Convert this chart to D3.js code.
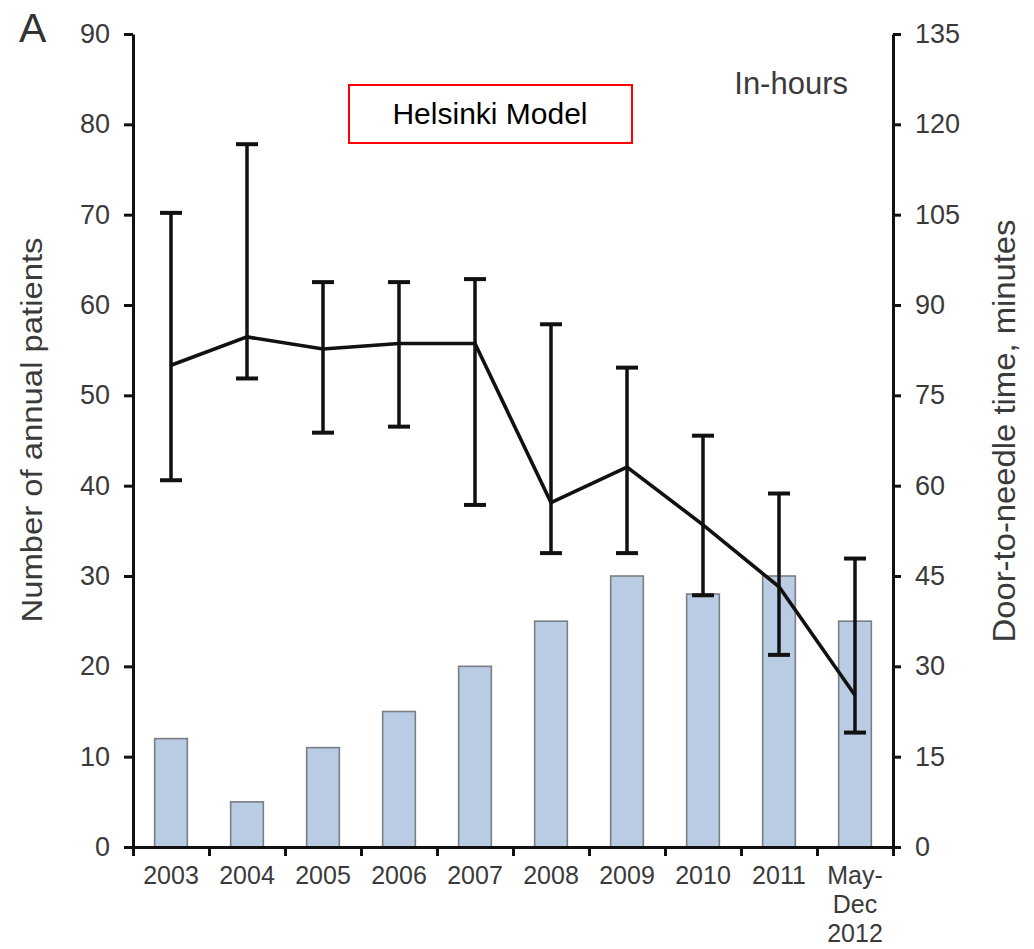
<!DOCTYPE html>
<html>
<head>
<meta charset="utf-8">
<script src="https://cdn.jsdelivr.net/npm/d3@7"></script>
<style>
  body { margin: 0; background: #fff; }
  svg text { font-family: "Liberation Sans", Arial, sans-serif; }
</style>
</head>
<body>
<div id="chart"></div>
<script>
// data
var years = ["2003", "2004", "2005", "2006", "2007", "2008", "2009", "2010", "2011", "May-Dec 2012"];
var patients = [12, 5, 11, 15, 20, 25, 30, 28, 30, 25];
// door-to-needle time, minutes (median and error bar ends)
var dtnMedian = [80, 84.7, 82.7, 83.6, 83.6, 57.2, 63.1, 53.5, 43.2, 25.2];
var dtnUpper = [105.3, 116.7, 93.8, 93.8, 94.3, 86.8, 79.6, 68.3, 58.7, 47.9];
var dtnLower = [60.9, 77.8, 68.8, 69.8, 56.8, 48.8, 48.8, 41.8, 31.9, 19.0];
var leftTicks = [0, 10, 20, 30, 40, 50, 60, 70, 80, 90];
var rightTicks = [0, 15, 30, 45, 60, 75, 90, 105, 120, 135];

var W = 1034, H = 949;
var plot = { left: 133, right: 893, top: 34, bottom: 847 };

var svg = d3.select("#chart").append("svg")
  .attr("width", W)
  .attr("height", H);

var x = d3.scaleBand()
  .domain(years)
  .range([plot.left, plot.right])
  .paddingInner(0.57)
  .paddingOuter(0.285);

var yLeft = d3.scaleLinear().domain([0, 90]).range([plot.bottom, plot.top]);
var yRight = d3.scaleLinear().domain([0, 135]).range([plot.bottom, plot.top]);

function center(d) {
  return x(d) + x.bandwidth() / 2;
}

// bars
svg.append("g")
  .selectAll("rect")
  .data(years)
  .enter()
  .append("rect")
  .attr("x", function (d) { return x(d); })
  .attr("y", function (d, i) { return yLeft(patients[i]); })
  .attr("width", x.bandwidth())
  .attr("height", function (d, i) { return plot.bottom - yLeft(patients[i]); })
  .attr("fill", "#b9cce4")
  .attr("stroke", "#7a7f86")
  .attr("stroke-width", 1.6);

// error bars
var capW = 22;
var err = svg.append("g").attr("stroke", "#111");
years.forEach(function (d, i) {
  var cx = center(d);
  err.append("line")
    .attr("x1", cx).attr("x2", cx)
    .attr("y1", yRight(dtnUpper[i])).attr("y2", yRight(dtnLower[i]))
    .attr("stroke-width", 3.5);
  [dtnUpper[i], dtnLower[i]].forEach(function (v) {
    err.append("line")
      .attr("x1", cx - capW / 2).attr("x2", cx + capW / 2)
      .attr("y1", yRight(v)).attr("y2", yRight(v))
      .attr("stroke-width", 4);
  });
});

// median line
var line = d3.line()
  .x(function (d, i) { return center(years[i]); })
  .y(function (d) { return yRight(d); });

svg.append("path")
  .datum(dtnMedian)
  .attr("d", line)
  .attr("fill", "none")
  .attr("stroke", "#111")
  .attr("stroke-width", 3.6)
  .attr("stroke-linejoin", "miter");

// axes
function styleAxis(g, size) {
  g.selectAll("path.domain").attr("stroke", "#111").attr("stroke-width", 3);
  g.selectAll(".tick line").attr("stroke", "#111").attr("stroke-width", 3);
  g.selectAll(".tick text")
    .attr("fill", "#3a3a3a")
    .style("font-family", "'Liberation Sans', Arial, sans-serif")
    .style("font-size", size + "px");
}

var gLeft = svg.append("g")
  .attr("transform", "translate(" + plot.left + ",0)")
  .call(d3.axisLeft(yLeft).tickValues(leftTicks).tickSize(9).tickSizeOuter(0).tickPadding(14));
styleAxis(gLeft, 27);

var gRight = svg.append("g")
  .attr("transform", "translate(" + plot.right + ",0)")
  .call(d3.axisRight(yRight).tickValues(rightTicks).tickSize(8).tickSizeOuter(0).tickPadding(14));
styleAxis(gRight, 27);

var bounds = d3.scaleLinear().domain([0, years.length]).range([plot.left, plot.right]);
var gBottom = svg.append("g")
  .attr("transform", "translate(0," + plot.bottom + ")")
  .call(d3.axisBottom(bounds).tickValues(d3.range(years.length + 1)).tickSize(9).tickSizeOuter(0).tickFormat(""));
styleAxis(gBottom, 26);

// category labels
var xl = svg.append("g")
  .attr("fill", "#3a3a3a")
  .style("font-size", "25px")
  .attr("text-anchor", "middle");
years.forEach(function (d) {
  var parts = d === "May-Dec 2012" ? ["May-", "Dec", "2012"] : [d];
  var t = xl.append("text").attr("x", center(d)).attr("y", 884);
  parts.forEach(function (p, k) {
    t.append("tspan").attr("x", center(d)).attr("dy", k === 0 ? 0 : 29).text(p);
  });
});

// axis titles
svg.append("text")
  .attr("transform", "translate(42,430) rotate(-90)")
  .attr("text-anchor", "middle")
  .attr("fill", "#3a3a3a")
  .style("font-size", "29px")
  .attr("textLength", 385)
  .attr("lengthAdjust", "spacingAndGlyphs")
  .text("Number of annual patients");

svg.append("text")
  .attr("transform", "translate(1015,431) rotate(-90)")
  .attr("text-anchor", "middle")
  .attr("fill", "#3a3a3a")
  .style("font-size", "31px")
  .attr("textLength", 423)
  .attr("lengthAdjust", "spacingAndGlyphs")
  .text("Door-to-needle time, minutes");

// panel letter and annotations
svg.append("text")
  .attr("x", 19).attr("y", 42)
  .attr("fill", "#333")
  .style("font-size", "41px")
  .text("A");

svg.append("text")
  .attr("x", 848).attr("y", 94)
  .attr("text-anchor", "end")
  .attr("fill", "#3a3a3a")
  .style("font-size", "31px")
  .text("In-hours");

svg.append("rect")
  .attr("x", 349).attr("y", 85)
  .attr("width", 283).attr("height", 58)
  .attr("fill", "none")
  .attr("stroke", "#ff0000")
  .attr("stroke-width", 2);

svg.append("text")
  .attr("x", 490).attr("y", 124)
  .attr("text-anchor", "middle")
  .attr("fill", "#000")
  .style("font-size", "30px")
  .text("Helsinki Model");
</script>
</body>
</html>
